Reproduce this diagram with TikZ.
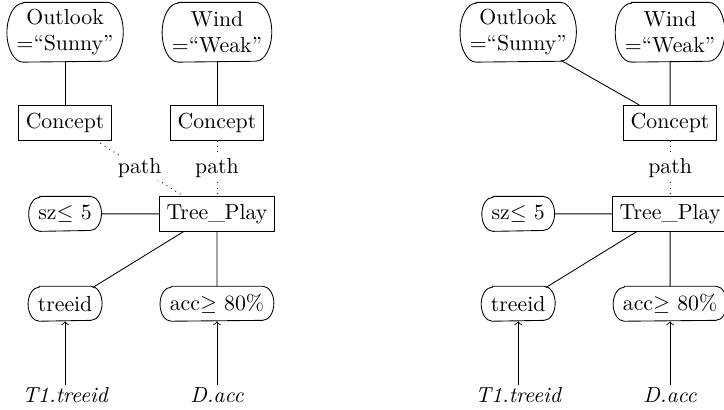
\documentclass[tikz,border=0pt]{standalone}
\begin{document}
\begin{tikzpicture}[
  rel/.style={draw, minimum height=0.56cm},
  cond/.style={inner xsep=0.15cm, inner ysep=2pt, minimum height=0.55cm},
  bigcond/.style={inner xsep=0.15cm, inner ysep=2pt, minimum height=0.95cm,
    align=center},
  attr/.style={font=\itshape, inner sep=1pt},
  lbl/.style={fill=white, inner sep=1pt, midway}]
\useasboundingbox (0,0) rectangle (11.68,-6.60);
\begin{scope}
\node[bigcond] (outl) at (1.05,-0.52) {Outlook\\$=$``Sunny''};
\node[bigcond] (windl) at (3.50,-0.52) {Wind\\$=$``Weak''};
\node[rel] (conla) at (1.05,-1.98) {Concept};
\node[rel] (conlb) at (3.50,-1.98) {Concept};
\node[rel] (treel) at (3.50,-3.45) {Tree\_Play};
\node[cond] (szl) at (1.05,-3.45) {sz$\leq$ 5};
\node[cond] (tidl) at (1.05,-4.90) {treeid};
\node[cond] (accl) at (3.50,-4.90) {acc$\geq$ 80\%};
\node[attr] (tal) at (1.05,-6.37) {T1.treeid};
\node[attr] (dal) at (3.50,-6.37) {D.acc};
\draw (outl) -- (conla) (windl) -- (conlb);
\draw[dotted] (conla.-30) -- (treel.152) node[lbl] {path};
\draw[dotted] (conlb) -- (treel) node[lbl] {path};
\draw (szl) -- (treel) (treel.208) -- ([xshift=-0.15cm,yshift=-0.02cm]tidl.north east) (treel) -- (accl);
\draw[->] (tal) -- (tidl);
\draw[->] (dal) -- (accl);
\end{scope}
\begin{scope}[xshift=7.31cm]
\node[bigcond] (outr) at (1.05,-0.52) {Outlook\\$=$``Sunny''};
\node[bigcond] (windr) at (3.50,-0.52) {Wind\\$=$``Weak''};
\node[rel] (conr) at (3.50,-1.98) {Concept};
\node[rel] (treer) at (3.50,-3.45) {Tree\_Play};
\node[cond] (szr) at (1.05,-3.45) {sz$\leq$ 5};
\node[cond] (tidr) at (1.05,-4.90) {treeid};
\node[cond] (accr) at (3.50,-4.90) {acc$\geq$ 80\%};
\node[attr] (tar) at (1.05,-6.37) {T1.treeid};
\node[attr] (dar) at (3.50,-6.37) {D.acc};
\draw ([xshift=-0.25cm,yshift=0.03cm]outr.south east) -- (conr.150) (windr) -- (conr);
\draw[dotted] (conr) -- (treer) node[lbl] {path};
\draw (szr) -- (treer) (treer.208) -- ([xshift=-0.15cm,yshift=-0.02cm]tidr.north east) (treer) -- (accr);
\draw[->] (tar) -- (tidr);
\draw[->] (dar) -- (accr);
\end{scope}
% outlines with flat elliptic ends
\foreach \n/\rx/\ry in {szl/0.18/0.275,tidl/0.18/0.275,accl/0.18/0.275,
  szr/0.18/0.275,tidr/0.18/0.275,accr/0.18/0.275,
  outl/0.26/0.475,windl/0.26/0.475,outr/0.26/0.475,windr/0.26/0.475}
  \draw ([xshift=\rx cm]\n.north west) -- ([xshift=-\rx cm]\n.north east)
    arc[start angle=90, end angle=-90, x radius=\rx cm, y radius=\ry cm]
    -- ([xshift=\rx cm]\n.south west)
    arc[start angle=270, end angle=90, x radius=\rx cm, y radius=\ry cm] -- cycle;
\end{tikzpicture}
\end{document}
